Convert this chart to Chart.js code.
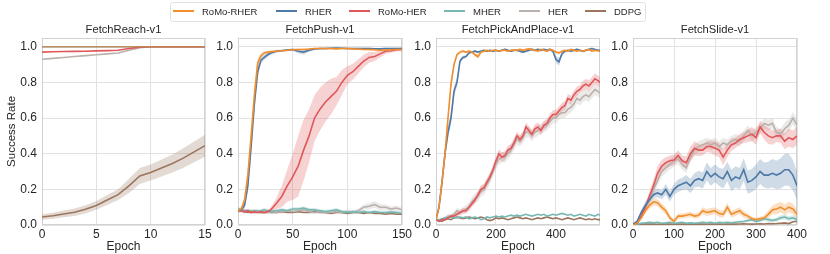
<!DOCTYPE html>
<html><head><meta charset="utf-8">
<script src="https://cdn.jsdelivr.net/npm/chart.js@4.4.0/dist/chart.umd.min.js"></script>
<style>
body{margin:0;background:#fff;}
#wrap{position:relative;width:830px;height:254px;overflow:hidden;background:#fff;font-family:'Liberation Sans',Arial,sans-serif;}
.pane{position:absolute;top:0;}
#legend{position:absolute;left:170px;top:2px;width:474px;height:18px;border:1px solid #e2e2e2;border-radius:3px;background:#fff;}
.item{position:absolute;top:0;height:18px;line-height:18px;font-size:9.5px;color:#262626;white-space:nowrap;}
.item span.sw{display:inline-block;width:21px;height:2px;vertical-align:middle;margin-right:8px;position:relative;top:-1px;}
</style></head>
<body><div id="wrap"></div>
<script>
// ---------- data ----------
const NAMES = ['RoMo-RHER','RHER','RoMo-HER','MHER','HER','DDPG'];
const TITLES = ['FetchReach-v1','FetchPush-v1','FetchPickAndPlace-v1','FetchSlide-v1'];
const YTICKS = [0,0.2,0.4,0.6,0.8,1.0];

// FetchReach
const reachX = [0,1,2,3,4,5,6,7,8,9,10,11,12,13,14,15];
const reachXTicks = [0,5,10,15];
const reachRoMoRHER = [1,1,1,1,1,1,1,1,1,1,1,1,1,1,1,1];
const reachRHER     = [1,1,1,1,1,1,1,1,1,1,1,1,1,1,1,1];
const reachRoMoHER  = [0.97,0.972,0.973,0.974,0.975,0.977,0.978,0.98,0.99,0.998,1,1,1,1,1,1];
const reachMHER     = [1,1,1,1,1,1,1,1,1,1,1,1,1,1,1,1];
const reachHER      = [0.93,0.935,0.94,0.945,0.95,0.955,0.96,0.965,0.98,0.995,1,1,1,1,1,1];
const reachDDPG     = [0.045,0.052,0.062,0.072,0.088,0.11,0.14,0.17,0.22,0.275,0.295,0.32,0.345,0.375,0.41,0.445];
const reachDDPGSpread = [0.015,0.017,0.019,0.021,0.023,0.025,0.028,0.03,0.04,0.045,0.045,0.048,0.05,0.055,0.058,0.062];

// FetchPush
const pushX = [0,3,6,9,12,15,18,21,24,27,30,35,40,45,50,55,60,65,70,75,80,85,90,95,100,105,110,115,120,125,130,135,140,145,150];
const pushXTicks = [0,50,100,150];
const pushRoMoRHER = [0.08,0.09,0.14,0.28,0.50,0.73,0.91,0.95,0.965,0.97,0.972,0.975,0.978,0.98,0.983,0.985,0.985,0.987,0.99,0.99,0.99,0.99,0.988,0.99,0.99,0.988,0.987,0.985,0.985,0.983,0.98,0.982,0.983,0.985,0.985];
const pushRHER     = [0.08,0.085,0.11,0.22,0.44,0.68,0.86,0.925,0.94,0.955,0.965,0.975,0.978,0.982,0.984,0.975,0.97,0.98,0.987,0.99,0.99,0.992,0.993,0.992,0.99,0.99,0.99,0.99,0.99,0.988,0.988,0.99,0.99,0.99,0.99];
const pushRoMoHER  = [0.08,0.08,0.075,0.08,0.07,0.075,0.07,0.075,0.07,0.075,0.085,0.12,0.16,0.22,0.27,0.33,0.42,0.50,0.60,0.65,0.69,0.72,0.75,0.80,0.84,0.86,0.89,0.92,0.94,0.945,0.96,0.975,0.978,0.983,0.985];
const pushMHER     = [0.09,0.085,0.08,0.08,0.075,0.08,0.075,0.08,0.085,0.08,0.075,0.08,0.085,0.08,0.09,0.09,0.095,0.085,0.085,0.08,0.075,0.08,0.085,0.075,0.07,0.075,0.07,0.075,0.07,0.075,0.07,0.07,0.072,0.07,0.065];
const pushHER      = [0.09,0.08,0.075,0.08,0.08,0.075,0.08,0.07,0.075,0.07,0.075,0.07,0.075,0.08,0.075,0.08,0.085,0.075,0.07,0.075,0.07,0.07,0.075,0.07,0.075,0.07,0.08,0.1,0.105,0.115,0.1,0.1,0.09,0.095,0.085];
const pushDDPG     = [0.085,0.08,0.075,0.07,0.075,0.07,0.075,0.07,0.07,0.075,0.07,0.07,0.075,0.07,0.07,0.075,0.07,0.07,0.075,0.07,0.07,0.065,0.07,0.07,0.065,0.07,0.07,0.065,0.07,0.065,0.065,0.06,0.065,0.06,0.06];
const pushRoMoRHERSpread = [0.01,0.012,0.02,0.03,0.03,0.03,0.02,0.012,0.01,0.008,0.008,0.006,0.006,0.006,0.005,0.005,0.005,0.005,0.005,0.005,0.005,0.005,0.005,0.005,0.005,0.005,0.005,0.005,0.005,0.005,0.005,0.005,0.005,0.005,0.005];
const pushRHERSpread     = [0.01,0.012,0.02,0.03,0.035,0.035,0.03,0.02,0.015,0.012,0.01,0.008,0.006,0.006,0.006,0.012,0.014,0.008,0.005,0.005,0.005,0.005,0.005,0.005,0.005,0.005,0.005,0.005,0.005,0.005,0.005,0.005,0.005,0.005,0.005];
const pushRoMoHERSpread  = [0.01,0.01,0.01,0.01,0.01,0.01,0.01,0.01,0.01,0.01,0.015,0.03,0.06,0.09,0.13,0.17,0.17,0.15,0.13,0.12,0.11,0.1,0.08,0.07,0.05,0.045,0.04,0.035,0.03,0.025,0.02,0.015,0.012,0.01,0.01];
const pushMHERSpread     = [0.01,0.01,0.01,0.01,0.01,0.01,0.01,0.01,0.01,0.01,0.01,0.01,0.01,0.01,0.01,0.01,0.01,0.01,0.01,0.01,0.01,0.01,0.01,0.01,0.01,0.01,0.01,0.01,0.01,0.01,0.01,0.01,0.01,0.01,0.01];
const pushHERSpread      = [0.01,0.01,0.01,0.01,0.01,0.01,0.01,0.01,0.01,0.01,0.01,0.01,0.01,0.01,0.01,0.01,0.01,0.01,0.01,0.01,0.01,0.01,0.01,0.01,0.01,0.01,0.012,0.015,0.018,0.02,0.018,0.015,0.015,0.015,0.012];

// FetchPickAndPlace
const pnpX = [0,10,20,30,40,50,60,70,80,90,100,110,120,130,140,150,160,170,180,190,200,210,220,230,240,250,260,270,280,290,300,310,320,330,340,350,360,370,380,390,400,410,420,430,440,450,460,470,480,490,500,510,520,530,540,547];
const pnpXTicks = [0,200,400];
const pnpRoMoRHER = [0.03,0.10,0.24,0.40,0.60,0.79,0.90,0.955,0.97,0.975,
  0.97,0.975,0.97,0.955,0.945,0.97,0.975,0.98,0.975,0.98,
  0.98,0.975,0.98,0.98,0.975,0.98,0.982,0.98,0.985,0.98,
  0.985,0.988,0.985,0.98,0.975,0.985,0.98,0.975,0.985,0.98,
  0.97,0.965,0.975,0.98,0.975,0.985,0.98,0.975,0.98,0.975,
  0.98,0.985,0.975,0.98,0.978,0.975];
const pnpRHER = [0.03,0.10,0.24,0.40,0.52,0.60,0.75,0.80,0.92,0.94,
  0.945,0.965,0.97,0.975,0.97,0.975,0.98,0.975,0.98,0.975,
  0.98,0.975,0.98,0.985,0.98,0.975,0.98,0.98,0.975,0.97,
  0.975,0.98,0.985,0.98,0.985,0.98,0.985,0.98,0.985,0.975,
  0.93,0.915,0.96,0.975,0.98,0.975,0.98,0.985,0.98,0.975,
  0.98,0.985,0.99,0.985,0.98,0.98];
const pnpRoMoHER = [0.03,0.02,0.03,0.03,0.04,0.05,0.05,0.06,0.07,0.08,
  0.08,0.10,0.12,0.14,0.17,0.20,0.21,0.24,0.27,0.31,
  0.36,0.40,0.38,0.39,0.42,0.43,0.46,0.50,0.48,0.50,
  0.55,0.53,0.51,0.54,0.55,0.53,0.56,0.57,0.60,0.62,
  0.62,0.64,0.66,0.67,0.71,0.70,0.73,0.75,0.76,0.78,
  0.79,0.78,0.80,0.82,0.81,0.80];
const pnpMHER = [0.03,0.03,0.035,0.04,0.04,0.045,0.04,0.04,0.045,0.04,
  0.045,0.035,0.04,0.045,0.04,0.03,0.035,0.045,0.04,0.045,
  0.05,0.045,0.05,0.045,0.05,0.055,0.05,0.055,0.05,0.055,
  0.06,0.055,0.05,0.055,0.06,0.055,0.06,0.05,0.055,0.06,
  0.055,0.06,0.065,0.06,0.055,0.06,0.05,0.055,0.06,0.055,
  0.05,0.06,0.055,0.05,0.06,0.055];
const pnpHER = [0.03,0.02,0.03,0.04,0.05,0.05,0.06,0.08,0.07,0.08,
  0.09,0.10,0.13,0.15,0.16,0.19,0.20,0.23,0.26,0.30,
  0.34,0.37,0.38,0.38,0.40,0.42,0.45,0.48,0.47,0.49,
  0.52,0.52,0.50,0.52,0.53,0.54,0.55,0.56,0.58,0.60,
  0.60,0.62,0.63,0.63,0.65,0.66,0.68,0.71,0.70,0.72,
  0.73,0.72,0.74,0.76,0.75,0.74];
const pnpDDPG = [0.03,0.025,0.02,0.03,0.035,0.03,0.04,0.045,0.04,0.035,
  0.04,0.045,0.04,0.035,0.04,0.045,0.04,0.03,0.025,0.03,
  0.04,0.035,0.04,0.035,0.03,0.035,0.04,0.045,0.04,0.035,
  0.04,0.035,0.03,0.035,0.04,0.035,0.04,0.045,0.04,0.035,
  0.04,0.035,0.03,0.035,0.04,0.035,0.03,0.035,0.04,0.035,
  0.03,0.035,0.03,0.035,0.03,0.03];
const pnpRoMoRHERSpread = [0.005,0.02,0.03,0.03,0.03,0.03,0.02,0.01,0.008,0.006,
  0.006,0.006,0.008,0.01,0.012,0.008,0.006,0.006,0.006,0.006,
  0.006,0.006,0.006,0.006,0.006,0.006,0.006,0.006,0.006,0.006,
  0.006,0.006,0.006,0.006,0.006,0.006,0.006,0.006,0.006,0.006,
  0.008,0.008,0.006,0.006,0.006,0.006,0.006,0.006,0.006,0.006,
  0.006,0.006,0.006,0.006,0.006,0.006];
const pnpRHERSpread = [0.005,0.02,0.03,0.035,0.035,0.035,0.03,0.025,0.015,0.01,
  0.008,0.006,0.006,0.006,0.006,0.006,0.006,0.006,0.006,0.006,
  0.006,0.006,0.006,0.006,0.006,0.006,0.006,0.006,0.006,0.006,
  0.006,0.006,0.006,0.006,0.006,0.006,0.006,0.006,0.006,0.01,
  0.02,0.022,0.012,0.006,0.006,0.006,0.006,0.006,0.006,0.006,
  0.006,0.006,0.006,0.006,0.006,0.006];
const pnpRoMoHERSpread = [0.005,0.005,0.006,0.008,0.01,0.01,0.012,0.012,0.014,0.015,
  0.015,0.016,0.018,0.02,0.02,0.022,0.022,0.024,0.025,0.025,
  0.025,0.025,0.025,0.025,0.025,0.025,0.025,0.025,0.025,0.025,
  0.025,0.025,0.025,0.025,0.025,0.025,0.025,0.025,0.025,0.025,
  0.025,0.025,0.025,0.025,0.025,0.025,0.025,0.025,0.025,0.028,
  0.03,0.03,0.03,0.03,0.03,0.03];
const pnpHERSpread = [0.005,0.005,0.006,0.008,0.01,0.012,0.014,0.016,0.018,0.02,
  0.022,0.024,0.026,0.028,0.03,0.03,0.03,0.03,0.03,0.03,
  0.03,0.03,0.03,0.03,0.03,0.03,0.03,0.03,0.03,0.03,
  0.03,0.03,0.03,0.03,0.03,0.03,0.03,0.03,0.03,0.03,
  0.03,0.03,0.03,0.03,0.03,0.03,0.03,0.03,0.03,0.03,
  0.03,0.03,0.03,0.03,0.03,0.03];

// FetchSlide
const slideX = [0,10,20,30,40,50,60,70,80,90,100,110,120,130,140,150,160,170,180,190,200,210,220,230,240,250,260,270,280,290,300,310,320,330,340,350,360,370,380,390,400];
const slideXTicks = [0,100,200,300,400];
const slideRoMoRHER = [0.0,0.01,0.04,0.08,0.11,0.13,0.125,0.10,0.08,0.04,
  0.02,0.05,0.05,0.055,0.06,0.05,0.055,0.08,0.07,0.075,
  0.08,0.065,0.06,0.10,0.06,0.07,0.08,0.06,0.05,0.035,
  0.03,0.035,0.04,0.06,0.085,0.09,0.10,0.085,0.10,0.09,
  0.06];
const slideRHER = [0.005,0.02,0.07,0.11,0.14,0.17,0.18,0.17,0.20,0.16,
  0.20,0.22,0.23,0.24,0.22,0.25,0.26,0.25,0.30,0.27,
  0.29,0.27,0.26,0.30,0.25,0.27,0.26,0.31,0.24,0.25,
  0.27,0.30,0.28,0.28,0.29,0.28,0.29,0.31,0.31,0.28,
  0.22];
const slideRoMoHER = [0.005,0.01,0.05,0.10,0.16,0.22,0.29,0.33,0.35,0.36,
  0.365,0.39,0.36,0.35,0.40,0.43,0.42,0.42,0.44,0.44,
  0.43,0.42,0.38,0.42,0.45,0.46,0.48,0.49,0.50,0.51,
  0.49,0.55,0.52,0.50,0.49,0.50,0.50,0.47,0.49,0.48,
  0.50];
const slideMHER = [0.0,0.005,0.01,0.012,0.015,0.012,0.015,0.01,0.012,0.015,
  0.01,0.012,0.015,0.01,0.012,0.01,0.012,0.015,0.012,0.015,
  0.01,0.015,0.012,0.015,0.012,0.015,0.018,0.02,0.025,0.03,
  0.02,0.025,0.035,0.03,0.025,0.03,0.04,0.045,0.035,0.04,
  0.03];
const slideHER = [0.005,0.01,0.04,0.09,0.15,0.20,0.25,0.30,0.32,0.34,
  0.36,0.37,0.34,0.32,0.38,0.42,0.44,0.45,0.46,0.45,
  0.46,0.44,0.46,0.45,0.47,0.48,0.47,0.50,0.53,0.50,
  0.52,0.54,0.57,0.56,0.57,0.52,0.51,0.54,0.56,0.60,
  0.56];
const slideDDPG = [0.0,0.003,0.005,0.005,0.006,0.005,0.004,0.005,0.006,0.005,
  0.004,0.005,0.006,0.005,0.004,0.005,0.006,0.005,0.004,0.005,
  0.006,0.005,0.004,0.005,0.006,0.005,0.006,0.007,0.006,0.005,
  0.006,0.007,0.006,0.008,0.007,0.008,0.01,0.012,0.008,0.018,
  0.02];
const slideRoMoRHERSpread = [0.003,0.005,0.01,0.015,0.02,0.02,0.02,0.02,0.02,0.015,
  0.012,0.015,0.015,0.015,0.015,0.015,0.015,0.02,0.02,0.02,
  0.02,0.02,0.02,0.025,0.02,0.02,0.02,0.02,0.015,0.012,
  0.01,0.012,0.015,0.02,0.025,0.03,0.03,0.03,0.03,0.03,
  0.025];
const slideRHERSpread = [0.003,0.01,0.015,0.02,0.02,0.02,0.025,0.025,0.03,0.03,
  0.03,0.035,0.035,0.04,0.04,0.04,0.045,0.045,0.05,0.05,
  0.05,0.05,0.055,0.055,0.06,0.06,0.06,0.065,0.065,0.065,
  0.07,0.07,0.07,0.075,0.08,0.08,0.085,0.09,0.09,0.085,
  0.08];
const slideRoMoHERSpread = [0.003,0.005,0.01,0.02,0.03,0.035,0.04,0.035,0.03,0.03,
  0.03,0.03,0.03,0.035,0.04,0.04,0.035,0.03,0.03,0.035,
  0.04,0.04,0.045,0.04,0.035,0.03,0.03,0.03,0.035,0.04,
  0.04,0.035,0.04,0.045,0.04,0.035,0.04,0.045,0.05,0.05,
  0.05];
const slideMHERSpread = [0.002,0.003,0.004,0.005,0.005,0.005,0.005,0.005,0.005,0.005,
  0.005,0.005,0.005,0.005,0.005,0.005,0.005,0.005,0.005,0.005,
  0.005,0.005,0.005,0.005,0.005,0.006,0.007,0.008,0.009,0.01,
  0.01,0.01,0.012,0.012,0.012,0.012,0.014,0.014,0.014,0.014,
  0.012];
const slideHERSpread = [0.003,0.005,0.01,0.02,0.025,0.03,0.03,0.03,0.03,0.03,
  0.03,0.03,0.03,0.03,0.03,0.03,0.03,0.03,0.03,0.03,
  0.03,0.03,0.03,0.03,0.03,0.03,0.03,0.03,0.03,0.03,
  0.03,0.03,0.03,0.03,0.03,0.03,0.03,0.035,0.035,0.035,
  0.035];

// ---------- styles & layout ----------
const COLORS = ['#f28e2b','#4e79a7','#e15759','#76b7b2','#bab0ac','#9c755f'];
const FONT = "'Liberation Sans', Arial, sans-serif";
const TXT = '#262626';
const RIGHT_PAD = 16;
Chart.defaults.font.family = FONT;

const PANELS = [
  {x:reachX, xmax:15, ticks:reachXTicks, left:0, yw:42, w:163, ylabel:true, alphas:[0.6,0.6,1,0.6,1,1],
   lines:[reachRoMoRHER,reachRHER,reachRoMoHER,reachMHER,reachHER,reachDDPG],
   spreads:[null,null,null,null,null,reachDDPGSpread]},
  {x:pushX, xmax:150, ticks:pushXTicks, left:197, yw:41, w:164,
   lines:[pushRoMoRHER,pushRHER,pushRoMoHER,pushMHER,pushHER,pushDDPG],
   spreads:[pushRoMoRHERSpread,pushRHERSpread,pushRoMoHERSpread,pushMHERSpread,pushHERSpread,null]},
  {x:pnpX, xmax:547, ticks:pnpXTicks, left:395, yw:41, w:164,
   lines:[pnpRoMoRHER,pnpRHER,pnpRoMoHER,pnpMHER,pnpHER,pnpDDPG],
   spreads:[pnpRoMoRHERSpread,pnpRHERSpread,pnpRoMoHERSpread,null,pnpHERSpread,null]},
  {x:slideX, xmax:400, ticks:slideXTicks, left:592, yw:41, w:164,
   lines:[slideRoMoRHER,slideRHER,slideRoMoHER,slideMHER,slideHER,slideDDPG],
   spreads:[slideRoMoRHERSpread,slideRHERSpread,slideRoMoHERSpread,slideMHERSpread,slideHERSpread,null]}
];

function rgba(hex,a){const n=parseInt(hex.slice(1),16);return `rgba(${n>>16},${(n>>8)&255},${n&255},${a})`;}

function makeDatasets(p){
  const ds=[];
  p.lines.forEach((y,k)=>{
    const s=p.spreads[k];
    if(s){
      ds.push({data:p.x.map((xv,i)=>({x:xv,y:y[i]+s[i]})),borderWidth:0,pointRadius:0,fill:false,order:100});
      ds.push({data:p.x.map((xv,i)=>({x:xv,y:y[i]-s[i]})),borderWidth:0,pointRadius:0,fill:'-1',
               backgroundColor:rgba(COLORS[k],0.27),order:100});
    }
  });
  p.lines.forEach((y,k)=>{
    const a=p.alphas?p.alphas[k]:1;
    ds.push({label:NAMES[k],data:p.x.map((xv,i)=>({x:xv,y:y[i]})),borderColor:rgba(COLORS[k],a),
             borderWidth:1.6,pointRadius:0,fill:false,tension:0,order:1+k});
  });
  return ds;
}

const framePlugin={id:'frame',beforeDatasetsDraw(c){
  const a=c.chartArea,ctx=c.ctx;ctx.save();ctx.strokeStyle='#d2d2d2';ctx.lineWidth=1;
  const l=Math.round(a.left)+0.5,r=Math.round(a.right)-0.5,t=Math.round(a.top)+0.5,b=Math.round(a.bottom)-0.5;
  ctx.strokeRect(l,t,r-l,b-t);ctx.restore();}};

const wrap=document.getElementById('wrap');
PANELS.forEach((p,idx)=>{
  const div=document.createElement('div');div.className='pane';
  const cw=p.yw+p.w+RIGHT_PAD;
  div.style.left=p.left+'px';div.style.width=cw+'px';div.style.height='254px';
  const cv=document.createElement('canvas');cv.width=cw;cv.height=254;
  cv.style.width=cw+'px';cv.style.height='254px';
  div.appendChild(cv);wrap.appendChild(div);
  new Chart(cv,{
    type:'line',
    data:{datasets:makeDatasets(p)},
    plugins:[framePlugin],
    options:{
      responsive:false,animation:false,devicePixelRatio:1,
      layout:{padding:{left:0,right:RIGHT_PAD,top:0,bottom:0}},
      plugins:{legend:{display:false},tooltip:{enabled:false},
        title:{display:true,fullSize:false,text:TITLES[idx],color:TXT,font:{size:11.2,weight:'normal',family:FONT},padding:{top:23.3,bottom:1.1}}},
      scales:{
        x:{type:'linear',min:0,max:p.xmax,
          ticks:{color:TXT,font:{size:12},padding:2,maxRotation:0,autoSkip:false,callback:v=>String(v)},
          afterBuildTicks:s=>{s.ticks=p.ticks.map(v=>({value:v}));},
          grid:{color:'#e2e2e2',drawTicks:false,lineWidth:1},
          border:{display:false},
          title:{display:true,text:'Epoch',color:TXT,font:{size:12},padding:{top:0,bottom:0}},
          afterFit:s=>{s.height=29;s.paddingLeft=0;s.paddingRight=0;}
        },
        y:{type:'linear',min:0,max:1.05,
          ticks:{color:TXT,font:{size:12},padding:5,callback:v=>Number(v).toFixed(1)},
          afterBuildTicks:s=>{s.ticks=YTICKS.map(v=>({value:v}));},
          grid:{color:'#e2e2e2',drawTicks:false,lineWidth:1},
          border:{display:false},
          title:{display:!!p.ylabel,text:'Success Rate',color:TXT,font:{size:11.5},padding:{top:4.5,bottom:0}},
          afterFit:s=>{s.width=p.yw;s.paddingTop=0;s.paddingBottom=0;}
        }
      }
    }
  });
});

// legend (HTML text)
const leg=document.createElement('div');leg.id='legend';
const LEG_LEFT=[2,105,178,273,348,414];
NAMES.forEach((n,k)=>{
  const it=document.createElement('div');it.className='item';it.style.left=LEG_LEFT[k]+'px';
  const sw=document.createElement('span');sw.className='sw';sw.style.background=COLORS[k];
  it.appendChild(sw);it.appendChild(document.createTextNode(n));leg.appendChild(it);
});
wrap.appendChild(leg);
</script>
</body></html>
